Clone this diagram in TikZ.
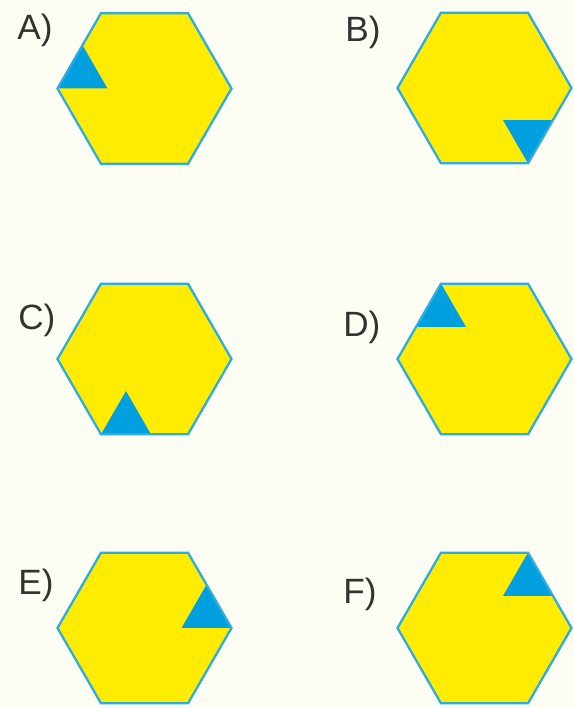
\documentclass[tikz,border=0pt]{standalone}
\usepackage{fontspec}
\setmainfont{Liberation Sans}
\usetikzlibrary{calc}
\definecolor{paper}{RGB}{253,253,243}
\definecolor{hexyellow}{RGB}{255,236,0}
\definecolor{hexblue}{RGB}{0,160,224}
\definecolor{hexedge}{RGB}{45,172,225}
\definecolor{labelgray}{RGB}{50,50,50}
\tikzset{
    hex face/.style={fill=hexyellow},
    hex edge/.style={draw=hexedge, line width=1.3pt, line join=miter},
    corner mark/.style={fill=hexblue},
    answer label/.style={
        anchor=base west, inner sep=0pt,
        text=labelgray, font=\fontsize{20}{24}\selectfont
    }
}

\begin{document}
\begin{tikzpicture}[x=0.02cm, y=0.02cm]
    \fill[paper] (0,0) rectangle (574,708);
    \useasboundingbox (0,0) rectangle (574,708);
    \coordinate (HA) at (144.5, 619.5);
    \coordinate (HB) at (484.5, 620);
    \coordinate (HC) at (144.5, 349);
    \coordinate (HD) at (484.5, 349);
    \coordinate (HE) at (144.5, 80);
    \coordinate (HF) at (484.5, 80);

    % hexagon / corner of the mark / towards centre / along the edge / label
    \foreach \h/\a/\c/\d/\lx/\ly in {
        A/180/0/60/17/668,
        B/300/120/60/345/666,
        C/240/60/0/18/378,
        D/120/300/240/343/371,
        E/0/180/120/18/113,
        F/60/240/300/343/105}{
        \begin{scope}[shift={(H\h)}]
            \path[hex face] (0:87) -- (60:87) -- (120:87) -- (180:87)
                -- (240:87) -- (300:87) -- cycle;
            \fill[corner mark] (\a:87) -- +(\c:50) -- +(\d:50) -- cycle;
            \path[hex edge] (0:87) -- (60:87) -- (120:87) -- (180:87)
                -- (240:87) -- (300:87) -- cycle;
        \end{scope}
        \node[answer label] (lab\h) at (\lx,\ly) {\h)};
    }
\end{tikzpicture}
\end{document}
